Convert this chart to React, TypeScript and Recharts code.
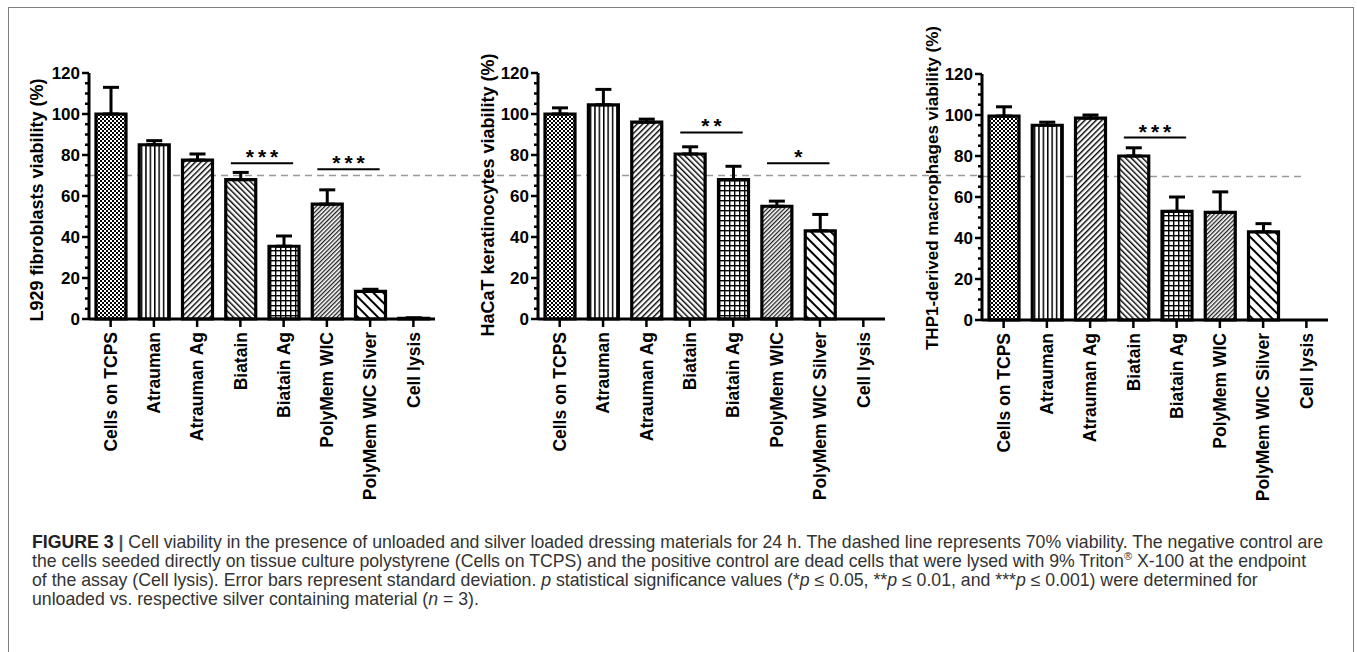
import React from 'react';
import { BarChart, Bar, XAxis, YAxis, Cell, ErrorBar, ReferenceLine } from 'recharts';

// materials, same order in every panel
const categories = [
  'Cells on TCPS',
  'Atrauman',
  'Atrauman Ag',
  'Biatain',
  'Biatain Ag',
  'PolyMem WIC',
  'PolyMem WIC Silver',
  'Cell lysis',
];

// viability (%) and standard deviation
const l929Values = [100, 85, 77.5, 68, 35.5, 56, 13.5, 0.3];
const l929Sd = [13, 2, 3, 3.5, 5, 7, 1, 0.3];
const hacatValues = [100, 104.5, 96, 80.5, 68, 55, 43, 0];
const hacatSd = [3, 7.5, 1.5, 3.5, 6.5, 2.5, 8, 0];
const thp1Values = [99.5, 95, 98.5, 80, 53, 52.5, 43, 0];
const thp1Sd = [4.5, 1.5, 1.5, 4, 7, 10, 4, 0];

// significance brackets: between category indices, at a viability level
const l929Sig = [
  { from: 3, to: 4, level: 76, stars: '***' },
  { from: 5, to: 6, level: 73, stars: '***' },
];
const hacatSig = [
  { from: 3, to: 4, level: 91, stars: '**' },
  { from: 5, to: 6, level: 76, stars: '*' },
];
const thp1Sig = [{ from: 3, to: 4, level: 89, stars: '***' }];

const yTicks = [0, 5, 10, 15, 20, 25, 30, 35, 40, 45, 50, 55, 60, 65, 70, 75, 80, 85, 90, 95, 100, 105, 110, 115, 120];
const yLabelEvery = 20;
const threshold = 70;

const FONT = '"Liberation Sans", Arial, Helvetica, sans-serif';

function Patterns({ id }: { id: string }) {
  return (
    <defs>
      <pattern id={`${id}-0`} width="4" height="4" patternUnits="userSpaceOnUse">
        <rect width="4" height="4" fill="#fff" />
        <rect width="2" height="2" fill="#000" />
        <rect x="2" y="2" width="2" height="2" fill="#000" />
      </pattern>
      <pattern id={`${id}-1`} width="4.4" height="10" patternUnits="userSpaceOnUse">
        <rect width="4.4" height="10" fill="#fff" />
        <rect width="1.5" height="10" fill="#000" />
      </pattern>
      <pattern id={`${id}-2`} width="4" height="4" patternUnits="userSpaceOnUse" patternTransform="rotate(45)">
        <rect width="4" height="4" fill="#fff" />
        <rect width="1.4" height="4" fill="#000" />
      </pattern>
      <pattern id={`${id}-3`} width="4" height="4" patternUnits="userSpaceOnUse" patternTransform="rotate(-45)">
        <rect width="4" height="4" fill="#fff" />
        <rect width="1.4" height="4" fill="#000" />
      </pattern>
      <pattern id={`${id}-4`} width="5" height="5" patternUnits="userSpaceOnUse">
        <rect width="5" height="5" fill="#fff" />
        <rect width="1.4" height="5" fill="#000" />
        <rect width="5" height="1.4" fill="#000" />
      </pattern>
      <pattern id={`${id}-5`} width="3" height="3" patternUnits="userSpaceOnUse" patternTransform="rotate(45)">
        <rect width="3" height="3" fill="#fff" />
        <rect width="1.3" height="3" fill="#222" />
      </pattern>
      <pattern id={`${id}-6`} width="7" height="7" patternUnits="userSpaceOnUse" patternTransform="rotate(-45)">
        <rect width="7" height="7" fill="#fff" />
        <rect width="2" height="7" fill="#000" />
      </pattern>
      <pattern id={`${id}-7`} width="4" height="4" patternUnits="userSpaceOnUse">
        <rect width="4" height="4" fill="#fff" />
      </pattern>
    </defs>
  );
}

function CategoryTick(props: any) {
  const { x, y, payload } = props;
  const ty = y + 13;
  return (
    <g>
      <line x1={x} x2={x} y1={y} y2={y + 8} stroke="#000" strokeWidth={2.5} />
      <text
        x={x}
        y={ty}
        transform={`rotate(-90 ${x} ${ty})`}
        textAnchor="end"
        dy="0.36em"
        fontSize={17.5}
        fontWeight="bold"
        fontFamily={FONT}
        fill="#000"
      >
        {payload.value}
      </text>
    </g>
  );
}

function ValueTick(props: any) {
  const { x, y, payload } = props;
  const major = payload.value % yLabelEvery === 0;
  return (
    <g>
      <line x1={x - (major ? 7 : 4)} x2={x} y1={y} y2={y} stroke="#000" strokeWidth={2.5} />
      {major && (
        <text x={x - 9} y={y} dy="0.36em" textAnchor="end" fontSize={17} fontWeight="bold" fontFamily={FONT} fill="#000">
          {payload.value}
        </text>
      )}
    </g>
  );
}

const starLabel = (stars: string) => (props: any) => {
  const vb = props.viewBox || {};
  const cx = vb.x + (vb.width || 0) / 2 + 2;
  return (
    <text x={cx} y={vb.y + 1} textAnchor="middle" fontSize={21} fontWeight="bold" letterSpacing={4} fontFamily={FONT} fill="#000">
      {stars}
    </text>
  );
};

const axisTitle = (text: string, dx: number, dy: number, size: number) => (props: any) => {
  const vb = props.viewBox || {};
  const cx = vb.x + dx;
  const cy = vb.y + vb.height / 2 + dy;
  return (
    <text
      x={cx}
      y={cy}
      transform={`rotate(-90 ${cx} ${cy})`}
      textAnchor="middle"
      dy="0.36em"
      fontSize={size}
      fontWeight="bold"
      fontFamily={FONT}
      fill="#000"
    >
      {text}
    </text>
  );
};

type PanelProps = {
  id: string;
  title: string;
  values: number[];
  sd: number[];
  sig: { from: number; to: number; level: number; stars: string }[];
  width: number;
  marginRight: number;
  top: number;
  titleX: number;
  titleDy: number;
  titleSize: number;
  dashTo: number;
};

function Panel(p: PanelProps) {
  const rows = categories.map((name, i) => ({
    name,
    idx: i,
    value: p.values[i],
    sd: [0, p.sd[i]],
  }));
  return (
    <BarChart
      width={p.width}
      height={p.top + 246 + 195}
      data={rows}
      margin={{ top: p.top, right: p.marginRight, bottom: 0, left: 0 }}
      barSize={30}
    >
      <Patterns id={p.id} />
      <XAxis
        xAxisId="cat"
        dataKey="name"
        type="category"
        interval={0}
        height={195}
        tickSize={0}
        tickMargin={0}
        tickLine={false}
        tick={<CategoryTick />}
        axisLine={{ stroke: '#000', strokeWidth: 3 }}
      />
      <XAxis xAxisId="num" dataKey="idx" type="number" domain={[-0.5, 7.5]} allowDataOverflow hide />
      <YAxis
        domain={[0, 120]}
        ticks={yTicks}
        interval={0}
        width={89}
        tickSize={0}
        tickMargin={0}
        tickLine={false}
        tick={<ValueTick />}
        axisLine={{ stroke: '#000', strokeWidth: 3 }}
        label={{ content: axisTitle(p.title, p.titleX, p.titleDy, p.titleSize) }}
      />
      <ReferenceLine
        xAxisId="num"
        segment={[
          { x: -0.5, y: threshold },
          { x: p.dashTo, y: threshold },
        ]}
        ifOverflow="visible"
        stroke="#999"
        strokeWidth={1.6}
        strokeDasharray="7 5"
        zIndex={0}
      />
      <Bar xAxisId="cat" dataKey="value" stroke="#000" strokeWidth={3.2} isAnimationActive={false}>
        {rows.map((r, i) => (
          <Cell key={r.name} fill={`url(#${p.id}-${i})`} />
        ))}
        <ErrorBar dataKey="sd" direction="y" width={8} strokeWidth={3} stroke="#000" isAnimationActive={false} />
      </Bar>
      {p.sig.map((s) => (
        <ReferenceLine
          key={`${s.from}-${s.to}`}
          xAxisId="num"
          segment={[
            { x: s.from - 0.22, y: s.level },
            { x: s.to + 0.22, y: s.level },
          ]}
          ifOverflow="visible"
          stroke="#000"
          strokeWidth={2}
          label={starLabel(s.stars)}
        />
      ))}
    </BarChart>
  );
}

export default function App() {
  return (
    <div
      style={{
        position: 'absolute',
        left: 0,
        top: 0,
        width: 1357,
        height: 652,
        overflow: 'hidden',
        background: '#fff',
        fontFamily: FONT,
      }}
    >
      <div
        style={{
          position: 'absolute',
          left: 8,
          top: 7,
          width: 1344,
          height: 700,
          border: '1.5px solid #808080',
        }}
      />
      <div style={{ position: 'absolute', left: 0, top: 0 }}>
        <Panel
          id="l929"
          title="L929 fibroblasts viability (%)"
          values={l929Values}
          sd={l929Sd}
          sig={l929Sig}
          width={545}
          marginRight={110}
          top={73}
          titleX={37}
          titleDy={4}
          titleSize={18}
          dashTo={9.88}
        />
      </div>
      <div style={{ position: 'absolute', left: 449, top: 0 }}>
        <Panel
          id="hacat"
          title="HaCaT keratinocytes viability (%)"
          values={hacatValues}
          sd={hacatSd}
          sig={hacatSig}
          width={540}
          marginRight={104}
          top={73}
          titleX={39}
          titleDy={-1}
          titleSize={18}
          dashTo={9.74}
        />
      </div>
      <div style={{ position: 'absolute', left: 893, top: 0 }}>
        <Panel
          id="thp1"
          title="THP1-derived macrophages viability (%)"
          values={thp1Values}
          sd={thp1Sd}
          sig={thp1Sig}
          width={450}
          marginRight={15}
          top={74}
          titleX={39}
          titleDy={-9}
          titleSize={17}
          dashTo={6.9}
        />
      </div>
      <div
        style={{
          position: 'absolute',
          left: 32,
          top: 533,
          fontSize: 17.7,
          lineHeight: '19px',
          color: '#333',
          whiteSpace: 'nowrap',
        }}
      >
        <div>
          <b style={{ color: '#222' }}>FIGURE 3</b> <b style={{ color: '#555' }}>|</b> Cell viability in the presence of
          unloaded and silver loaded dressing materials for 24 h. The dashed line represents 70% viability. The negative
          control are
        </div>
        <div>
          the cells seeded directly on tissue culture polystyrene (Cells on TCPS) and the positive control are dead cells
          that were lysed with 9% Triton<sup style={{ fontSize: 11, lineHeight: 0 }}>®</sup> X-100 at the endpoint
        </div>
        <div>
          of the assay (Cell lysis). Error bars represent standard deviation. <i>p</i> statistical significance values
          (*<i>p</i> ≤ 0.05, **<i>p</i> ≤ 0.01, and ***<i>p</i> ≤ 0.001) were determined for
        </div>
        <div>
          unloaded vs. respective silver containing material (<i>n</i> = 3).
        </div>
      </div>
    </div>
  );
}
